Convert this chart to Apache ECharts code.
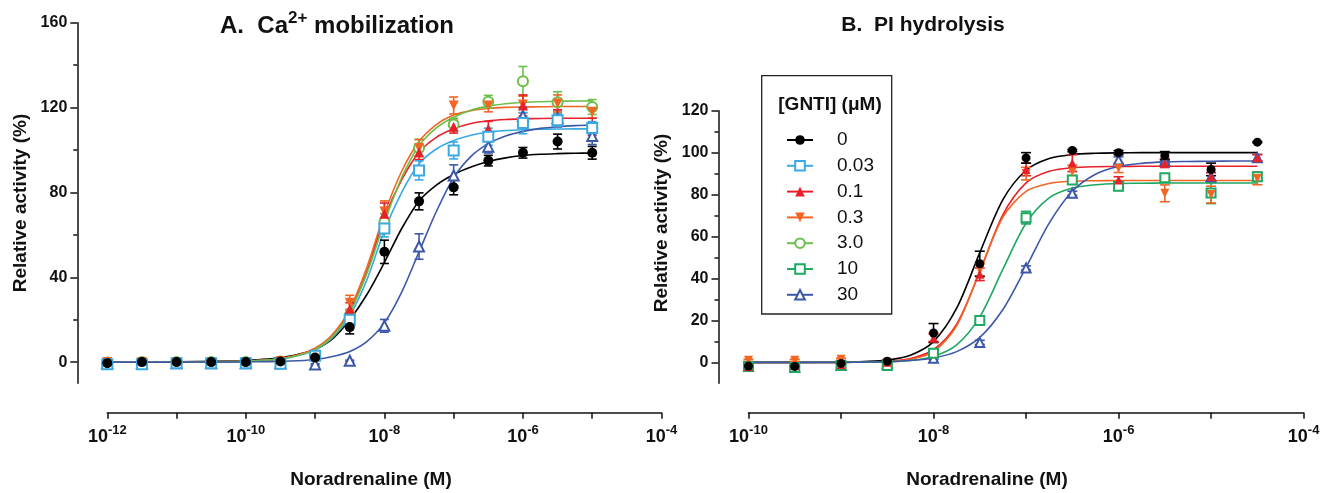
<!DOCTYPE html>
<html><head><meta charset="utf-8">
<script src="https://cdn.jsdelivr.net/npm/echarts@6/dist/echarts.min.js"></script>
<style>html,body{margin:0;padding:0;background:#fff}#c{width:1334px;height:493px}</style>
</head><body><div id="c"></div>
<script>
const FONT = "'Liberation Sans', Arial, Helvetica, sans-serif";

// ---- groups ([GNTI] µM) ----
const groups = ['0', '0.03', '0.1', '0.3', '3.0', '10', '30'];

// ---- Panel A: Ca2+ mobilization, measured points (log10 M) ----
const logA = [-12, -11.5, -11, -10.5, -10, -9.5, -9, -8.5, -8, -7.5, -7, -6.5, -6, -5.5, -5];
const A_0      = [-0.5, 0, 0, 0, 0, 0.3, 2.2, 16.5, 52, 75.8, 82.4, 95, 98.7, 104, 98.7];
const A_0_err  = [0.6, 0.6, 0.6, 0.6, 0.6, 0.8, 1.5, 3.2, 5.5, 4, 3.5, 2.5, 2.5, 3.5, 3];
const A_003     = [-1, -1, -0.5, -0.5, -0.5, -0.8, 3, 20, 63, 90.4, 99.8, 106.3, 112.7, 114, 110.4];
const A_003_err = [0.5, 0.5, 0.5, 0.5, 0.5, 0.5, 1.5, 2.5, 4, 4.5, 4, 4, 5, 3, 3];
const A_01     = [-0.3, 0, 0, 0, 0, 0.5, 3.2, 25, 70, 99, 111, 110, 121, 115, 111];
const A_01_err = [0.5, 0.5, 0.5, 0.5, 0.5, 0.5, 1.5, 3, 5, 3.5, 3, 3.5, 5, 4, 4];
const A_03     = [0, 0, 0, 0, 0, 0.5, 3.5, 28, 71, 101, 121, 121, 121.5, 122, 118];
const A_03_err = [0.5, 0.5, 0.5, 0.5, 0.5, 0.5, 1.5, 3.5, 5, 4, 4, 3, 4, 4, 3];
const A_3      = [-0.5, 0, 0, 0, 0, 0.3, 3, 22, 66, 101, 112, 122.8, 132.4, 122.5, 120.3];
const A_3_err  = [0.5, 0.5, 0.5, 0.5, 0.5, 0.5, 1.5, 3, 4, 4, 3, 3, 7, 5, 3.5];
const A_30     = [-0.5, -0.5, -0.5, -0.5, -0.5, -0.5, -1.1, 0.6, 17.1, 54.5, 88, 101.6, 116, 115, 106.6];
const A_30_err = [0.3, 0.3, 0.3, 0.3, 0.3, 0.3, 0.3, 0.3, 3, 6, 5, 3, 4, 4, 4];

// ---- Panel A fitted curves ----
const curveLogA = [-12, -11, -10, -9.75, -9.5, -9.25, -9, -8.75, -8.5, -8.25, -8, -7.75, -7.5, -7.25, -7, -6.75, -6.5, -6.25, -6, -5.75, -5.5, -5.25, -5];
const CA_0   = [0, 0.1, 0.7, 1.3, 2.2, 3.6, 6, 11, 20, 32, 47, 63, 76, 83.5, 88.5, 92, 94.6, 96.3, 97.4, 98, 98.3, 98.5, 98.6];
const CA_003 = [0, 0, 0.4, 0.8, 1.5, 3, 5.8, 11.5, 22, 39, 62, 80, 93.5, 100.5, 104.5, 107, 108.5, 109.2, 109.6, 109.8, 109.9, 110, 110];
const CA_01  = [0, 0, 0.4, 0.8, 1.6, 3.3, 6.4, 12.5, 24, 43, 68, 86, 99, 106, 110, 112.5, 113.8, 114.4, 114.7, 114.9, 115, 115, 115];
const CA_03  = [0, 0, 0.4, 0.8, 1.6, 3.3, 6.5, 13, 25, 45, 70, 90, 104, 112, 116.5, 118.6, 119.6, 120.1, 120.3, 120.4, 120.5, 120.5, 120.5];
const CA_3   = [0, 0, 0.4, 0.8, 1.5, 3.1, 6, 12, 23.5, 42, 66, 87, 102, 110.5, 115.5, 118.8, 120.7, 121.8, 122.5, 122.8, 123, 123.1, 123.2];
const CA_30  = [0, 0, 0.1, 0.2, 0.3, 0.6, 1.2, 2.6, 5, 9.8, 18.5, 33, 52, 71, 87, 97, 103, 106.6, 108.8, 110.2, 111, 111.5, 111.8];

// ---- Panel B: PI hydrolysis, measured points ----
const logB = [-10, -9.5, -9, -8.5, -8, -7.5, -7, -6.5, -6, -5.5, -5, -4.5];
const B_0      = [-1.8, -2, -0.5, 0.5, 14, 47, 97.5, 101, 100, 98.5, 92, 105];
const B_0_err  = [0.5, 0.5, 0.5, 0.5, 4.5, 6, 2.5, 0.5, 1, 2, 3, 0.3];
const B_01     = [-2, -1.5, -1, 0, 11.5, 42, 92, 95, 87, 94.9, 88.5, 97.6];
const B_01_err = [0.3, 0.3, 0.3, 0.5, 2, 3, 3, 4, 1.5, 2, 2, 1.5];
const B_03     = [1, 1, 1.5, 0, 12, 44, 90, 91, 92.5, 80.6, 80, 87.7];
const B_03_err = [0.5, 0.5, 0.5, 0.5, 2, 3, 3, 3, 2, 4, 4, 3];
const B_10     = [-2, -2.5, -1.5, -1.5, 4.3, 20, 69, 87, 84, 88, 80.7, 88.5];
const B_10_err = [0.5, 0.5, 0.5, 0.5, 1, 1, 3, 2, 2, 1, 5, 2];
const B_30     = [-2, -2.5, -1.5, -0.5, 1.9, 9.5, 45, 80.6, 96.5, 96, 88.5, 97.6];
const B_30_err = [0.3, 0.3, 0.3, 0.5, 0.5, 1, 1, 1, 1.5, 1, 2, 1.5];

// ---- Panel B fitted curves ----
const curveLogB = [-10, -9.5, -9, -8.75, -8.5, -8.25, -8, -7.75, -7.5, -7.25, -7, -6.75, -6.5, -6.25, -6, -5.75, -5.5, -5.25, -5, -4.75, -4.5];
const CB_0  = [0, 0, 0.1, 0.4, 1.1, 3.4, 9.9, 25.8, 52.3, 77.6, 91.6, 97.2, 99.1, 99.7, 99.9, 100, 100, 100, 100, 100, 100];
const CB_01 = [0, 0, 0, 0.2, 0.5, 1.8, 6, 18.2, 43.2, 70.4, 85.6, 91.1, 92.8, 93.3, 93.4, 93.5, 93.5, 93.5, 93.5, 93.5, 93.5];
const CB_03 = [0, 0, 0, 0.1, 0.3, 1.4, 5.1, 17.4, 43.4, 69.3, 81.5, 85.3, 86.4, 86.6, 86.7, 86.7, 86.7, 86.7, 86.7, 86.7, 86.7];
const CB_10 = [0, 0, 0, 0.1, 0.3, 0.9, 2.8, 8.3, 21.7, 44.4, 66.3, 78.4, 83.1, 84.7, 85.3, 85.4, 85.5, 85.5, 85.5, 85.5, 85.5];
const CB_30 = [0, 0, 0, 0.1, 0.3, 0.9, 2.1, 5.1, 11.9, 25.2, 45.3, 66.4, 81.6, 89.7, 93.4, 94.9, 95.6, 95.8, 95.9, 96, 96];

// ---- axis tick values ----
const yMajorA = [0, 40, 80, 120, 160];
const yMinorA = [20, 60, 100, 140];
const yMajorB = [0, 20, 40, 60, 80, 100, 120];
const yMinorB = [10, 30, 50, 70, 90, 110];

// ---- styles ----
const colors  = {'0':'#000000','0.03':'#3aa9e2','0.1':'#e8202a','0.3':'#f26522','3.0':'#6cbf48','10':'#1fa862','30':'#3d58a8'};
const symbols = {'0':'circle','0.03':'emptyRect','0.1':'triangle','0.3':'path://M0,0L20,0L10,17Z','3.0':'emptyCircle','10':'emptyRect','30':'emptyTriangle'};

const panelA = {
  '0':   {pts: A_0, err: A_0_err, curve: CA_0},
  '0.03':{pts: A_003, err: A_003_err, curve: CA_003},
  '0.1': {pts: A_01, err: A_01_err, curve: CA_01},
  '0.3': {pts: A_03, err: A_03_err, curve: CA_03},
  '3.0': {pts: A_3, err: A_3_err, curve: CA_3},
  '30':  {pts: A_30, err: A_30_err, curve: CA_30}
};
const panelB = {
  '0':   {pts: B_0, err: B_0_err, curve: CB_0},
  '0.1': {pts: B_01, err: B_01_err, curve: CB_01},
  '0.3': {pts: B_03, err: B_03_err, curve: CB_03},
  '10':  {pts: B_10, err: B_10_err, curve: CB_10},
  '30':  {pts: B_30, err: B_30_err, curve: CB_30}
};

function errRender(capHalf) {
  return function (params, api) {
    const x = api.value(0), lo = api.value(1), hi = api.value(2);
    const t = api.coord([x, hi]), b = api.coord([x, lo]);
    const st = {stroke: api.visual('color'), lineWidth: 1.6, fill: null};
    return {type: 'group', children: [
      {type: 'line', shape: {x1: t[0], y1: t[1], x2: b[0], y2: b[1]}, style: st},
      {type: 'line', shape: {x1: t[0] - capHalf, y1: t[1], x2: t[0] + capHalf, y2: t[1]}, style: st},
      {type: 'line', shape: {x1: b[0] - capHalf, y1: b[1], x2: b[0] + capHalf, y2: b[1]}, style: st}
    ]};
  };
}

const series = [];
function addCurves(panel, logC, xi, yi) {
  groups.forEach(g => {
    if (!panel[g]) return;
    series.push({
      name: g, type: 'line', xAxisIndex: xi, yAxisIndex: yi,
      data: logC.map((x, i) => [x, panel[g].curve[i]]),
      smooth: 0.3, showSymbol: false,
      symbol: symbols[g], symbolSize: 10,
      lineStyle: {color: colors[g], width: 1.6},
      itemStyle: {color: colors[g]}, z: 2, silent: true
    });
  });
}
function addPoints(panel, logX, xi, yi, size, cap) {
  groups.slice().reverse().forEach(g => {
    if (!panel[g]) return;
    const p = panel[g];
    series.push({
      name: g, type: 'custom', xAxisIndex: xi, yAxisIndex: yi,
      renderItem: errRender(cap), itemStyle: {color: colors[g]},
      encode: {x: 0, y: [1, 2]},
      data: logX.map((x, i) => [x, p.pts[i] - p.err[i], p.pts[i] + p.err[i]]),
      z: 3, silent: true
    });
    series.push({
      name: g, type: 'scatter', xAxisIndex: xi, yAxisIndex: yi,
      data: logX.map((x, i) => [x, p.pts[i]]),
      symbol: symbols[g], symbolSize: size,
      itemStyle: {color: colors[g], opacity: 1}, z: 4, silent: true
    });
  });
}
addCurves(panelA, curveLogA, 0, 0);
addCurves(panelB, curveLogB, 1, 2);
addPoints(panelA, logA, 0, 0, 10, 4.5);
addPoints(panelB, logB, 1, 2, 9, 5);

const axisColor = '#111';
const expRich = {
  b: {fontSize: 18, fontWeight: 'bold', fontFamily: FONT, color: axisColor, padding: [4, 0, 0, 0]},
  s: {fontSize: 13, fontWeight: 'bold', fontFamily: FONT, color: axisColor, verticalAlign: 'top'}
};
function expLabel(v) {
  const n = Math.round(v);
  return (n % 2 === 0) ? '{b|10}{s|' + n + '}' : '';
}
function xAxisDef(gi, min, max) {
  return {
    gridIndex: gi, type: 'value', min: min, max: max, interval: 1,
    position: 'bottom', offset: 29.4,
    axisLine: {show: true, onZero: false, lineStyle: {color: axisColor, width: 1.5}},
    axisTick: {show: true, length: 6, lineStyle: {color: axisColor, width: 1.5}},
    splitLine: {show: false},
    axisLabel: {margin: 11, formatter: expLabel, rich: expRich}
  };
}
function yAxisMajor(gi, min, max, vals) {
  return {
    gridIndex: gi, type: 'value', min: min, max: max, position: 'left', offset: 30,
    axisLine: {show: true, onZero: false, lineStyle: {color: axisColor, width: 1.5}},
    axisTick: {show: true, length: 7, customValues: vals, lineStyle: {color: axisColor, width: 1.5}},
    axisLabel: {show: true, customValues: vals, margin: 10, fontSize: 16, fontWeight: 'bold', fontFamily: FONT, color: axisColor},
    splitLine: {show: false}
  };
}
function yAxisMinor(gi, min, max, vals) {
  return {
    gridIndex: gi, type: 'value', min: min, max: max, position: 'left', offset: 30,
    axisLine: {show: false, onZero: false},
    axisTick: {show: true, length: 4, customValues: vals, lineStyle: {color: axisColor, width: 1.5}},
    axisLabel: {show: false},
    splitLine: {show: false}
  };
}

const option = {
  animation: false,
  backgroundColor: '#ffffff',
  grid: [
    {left: 107.3, right: 672.5, top: 22.8, bottom: 109.7},
    {left: 748.5, right: 30.4, top: 110.7, bottom: 109.7}
  ],
  xAxis: [xAxisDef(0, -12, -4), xAxisDef(1, -10, -4)],
  yAxis: [
    yAxisMajor(0, -10, 160, yMajorA), yAxisMinor(0, -10, 160, yMinorA),
    yAxisMajor(1, -10, 120, yMajorB), yAxisMinor(1, -10, 120, yMinorB)
  ],
  legend: {
    data: groups, orient: 'vertical', left: 786, top: 130, padding: 0,
    itemWidth: 26, itemHeight: 12, itemGap: 5.8,
    textStyle: {fontSize: 19, fontFamily: FONT, color: '#111', lineHeight: 20, padding: [0, 0, 0, 19]},
    selectedMode: false
  },
  graphic: [
    {type: 'rect', shape: {x: 761.7, y: 75.7, width: 130, height: 238.3},
     style: {fill: 'none', stroke: '#222', lineWidth: 1.3}, z: 0},
    {type: 'text', x: 830, y: 105, style: {text: '[GNTI] (\u03bcM)', font: 'bold 19px ' + FONT, fill: '#111', textAlign: 'center', textVerticalAlign: 'middle'}},
    {type: 'text', x: 337, y: 24, style: {
      text: '{a|A.  Ca}{s|2+}{a| mobilization}', textAlign: 'center', textVerticalAlign: 'middle',
      rich: {a: {font: 'bold 24px ' + FONT, fill: '#111', padding: [5, 0, 0, 0]},
             s: {font: 'bold 17px ' + FONT, fill: '#111', verticalAlign: 'top'}}}},
    {type: 'text', x: 923, y: 25, style: {text: 'B.  PI hydrolysis', font: 'bold 21px ' + FONT, fill: '#111', textAlign: 'center', textVerticalAlign: 'middle'}},
    {type: 'text', x: 21, y: 203, rotation: Math.PI / 2, style: {text: 'Relative activity (%)', font: 'bold 19px ' + FONT, fill: '#111', textAlign: 'center', textVerticalAlign: 'middle'}},
    {type: 'text', x: 662, y: 223, rotation: Math.PI / 2, style: {text: 'Relative activity (%)', font: 'bold 19px ' + FONT, fill: '#111', textAlign: 'center', textVerticalAlign: 'middle'}},
    {type: 'text', x: 371, y: 480, style: {text: 'Noradrenaline (M)', font: 'bold 19px ' + FONT, fill: '#111', textAlign: 'center', textVerticalAlign: 'middle'}},
    {type: 'text', x: 987, y: 480, style: {text: 'Noradrenaline (M)', font: 'bold 19px ' + FONT, fill: '#111', textAlign: 'center', textVerticalAlign: 'middle'}}
  ],
  series: series
};
const chart = echarts.init(document.getElementById('c'), null, {renderer: 'canvas'});
chart.setOption(option);
</script></body></html>
